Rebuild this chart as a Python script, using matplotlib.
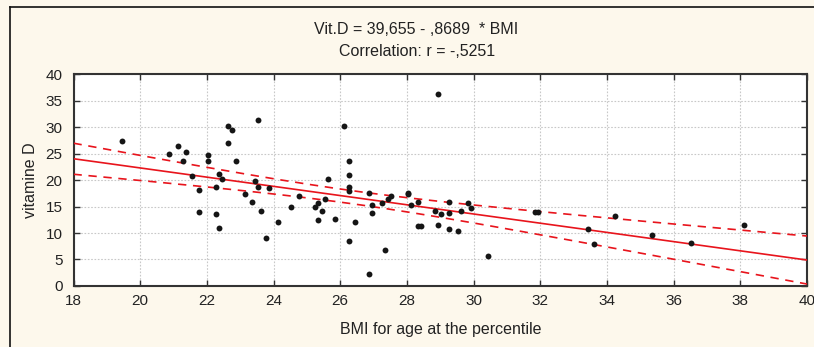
import matplotlib
matplotlib.use("Agg")
import numpy as np
import matplotlib.pyplot as plt
from matplotlib.lines import Line2D

plt.rcParams.update({"font.family": ["Liberation Sans", "DejaVu Sans"],
                     "font.size": 10})

# BMI for age (x) and vitamin D (y)
bmi = [19.44, 20.85, 21.13, 21.27, 21.36, 21.54, 21.77, 21.77, 22.04, 22.04,
       22.27, 22.27, 22.36, 22.45, 22.36, 22.63, 22.63, 22.75, 22.86, 23.13,
       23.35, 23.44, 23.53, 23.53, 23.62, 23.76, 23.85, 24.12, 24.53, 24.76,
       25.25, 25.33, 25.33, 25.44, 25.53, 25.62, 25.85, 26.12, 26.26, 26.26,
       26.26, 26.26, 26.26, 26.44, 26.85, 26.85, 26.94, 26.94, 27.26, 27.35,
       27.44, 27.53, 28.02, 28.02, 28.11, 28.34, 28.34, 28.43, 28.84, 28.93,
       28.93, 29.02, 29.25, 29.25, 29.25, 29.52, 29.61, 29.84, 29.93, 30.43,
       31.84, 31.93, 33.43, 33.62, 34.25, 35.34, 36.53, 38.10]
vitd = [27.4, 25.0, 26.5, 23.6, 25.3, 20.75, 18.2, 13.9, 24.7, 23.6,
        18.7, 13.6, 21.1, 20.2, 11.0, 30.2, 27.0, 29.4, 23.6, 17.3,
        15.85, 19.9, 31.3, 18.7, 14.15, 9.0, 18.4, 12.1, 15.0, 17.0,
        15.0, 15.6, 12.45, 14.15, 16.5, 20.2, 12.7, 30.2, 23.6, 21.0,
        18.7, 17.9, 8.4, 12.1, 2.2, 17.6, 15.3, 13.8, 15.6, 6.7,
        16.5, 17.0, 17.6, 17.3, 15.3, 15.85, 11.3, 11.3, 14.15, 36.2,
        11.6, 13.6, 15.85, 13.8, 10.7, 10.4, 14.15, 15.6, 14.8, 5.6,
        13.9, 13.9, 10.75, 7.9, 13.3, 9.6, 8.2, 11.6]

intercept = 39.655
slope = -0.8689
r_value = -0.5251

x_ticks = [18, 20, 22, 24, 26, 28, 30, 32, 34, 36, 38, 40]
y_ticks = [0, 5, 10, 15, 20, 25, 30, 35, 40]

BG = "#fdf8ec"
RED = "#e8141c"
TXT = "#222222"

fig = plt.figure(figsize=(8.14, 3.47), dpi=100, facecolor=BG)
ax = fig.add_axes([0.0903, 0.1758, 0.9011, 0.6109])
ax.set_facecolor("white")

x = np.array(bmi)
y = np.array(vitd)
n = len(x)
xs = np.linspace(18, 40, 200)
fit = intercept + slope * xs
# 95% confidence band of the regression line
resid = y - (intercept + slope * x)
s = np.sqrt(np.sum(resid ** 2) / (n - 2))
sxx = np.sum((x - x.mean()) ** 2)
half = 1.99 * s * np.sqrt(1.0 / n + (xs - x.mean()) ** 2 / sxx)

ax.plot(xs, fit, color=RED, lw=1.2, zorder=3)
ax.plot(xs, fit + half, color=RED, lw=1.2, ls=(0, (5, 4)), zorder=3)
ax.plot(xs, fit - half, color=RED, lw=1.2, ls=(0, (5, 4)), zorder=3)
ax.scatter(x, y, s=18, color="#151515", zorder=4, linewidths=0)

ax.set_xlim(18, 40)
ax.set_ylim(0, 40)
ax.set_xticks(x_ticks)
ax.set_yticks(y_ticks)
ax.grid(True, color="#c8c8c8", ls=(0, (1.5, 1.5)), lw=0.8)
ax.tick_params(direction="in", top=True, right=True, length=4, width=1.0,
               colors="#333333", labelsize=11, labelcolor=TXT)
ax.tick_params(axis="x", pad=6)
ax.tick_params(axis="y", pad=8)
for sp in ax.spines.values():
    sp.set_color("#333333")
    sp.set_linewidth(1.5)

ax.set_xlabel("BMI for age at the percentile", fontsize=11.5, color=TXT, labelpad=10)
ax.set_ylabel("vitamine D", fontsize=11.5, color=TXT, labelpad=5)

fig.text(416 / 814, 1 - 30 / 347, "Vit.D = 39,655 - ,8689  * BMI", ha="center", va="center",
         fontsize=11.5, color=TXT)
fig.text(417 / 814, 1 - 52 / 347, "Correlation: r = -,5251", ha="center", va="center",
         fontsize=11.5, color=TXT)

# outer frame (left and top edges visible)
fig.add_artist(Line2D([10 / 814, 10 / 814], [0, 1 - 7 / 347], transform=fig.transFigure,
                      color="#111111", lw=1.2))
fig.add_artist(Line2D([10 / 814, 1], [1 - 7 / 347, 1 - 7 / 347], transform=fig.transFigure,
                      color="#111111", lw=1.2))

fig.savefig("out.png", dpi=100, facecolor=BG)
